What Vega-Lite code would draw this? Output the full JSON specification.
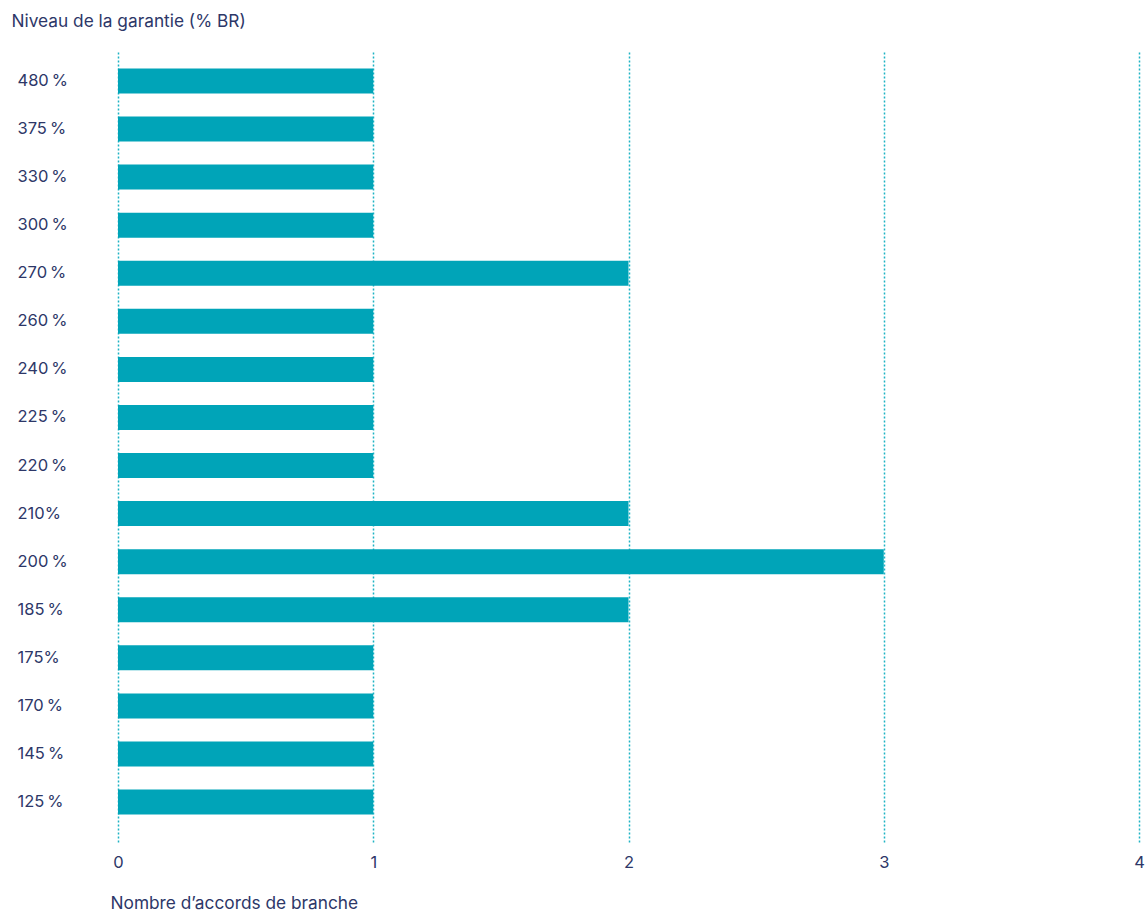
{
  "$schema": "https://vega.github.io/schema/vega-lite/v6.json",
  "autosize": {"type": "none"},
  "width": 1021,
  "height": 790,
  "padding": {"left": 118, "top": 52, "right": 7, "bottom": 71},
  "background": "white",
  "config": {
    "view": {"stroke": null},
    "font": "Inter",
    "axis": {"labelFont": "Inter", "titleFont": "Inter", "labelColor": "#2d3768", "titleColor": "#2d3768", "labelFontSize": 16.5, "titleFontSize": 17.3, "titleFontWeight": "normal"}
  },
  "data": {"values": [
    {"niveau": "480\u202f%", "n": 1},
    {"niveau": "375\u202f%", "n": 1},
    {"niveau": "330\u202f%", "n": 1},
    {"niveau": "300\u202f%", "n": 1},
    {"niveau": "270\u202f%", "n": 2},
    {"niveau": "260\u202f%", "n": 1},
    {"niveau": "240\u202f%", "n": 1},
    {"niveau": "225\u202f%", "n": 1},
    {"niveau": "220\u202f%", "n": 1},
    {"niveau": "210%", "n": 2},
    {"niveau": "200\u202f%", "n": 3},
    {"niveau": "185\u202f%", "n": 2},
    {"niveau": "175%", "n": 1},
    {"niveau": "170\u202f%", "n": 1},
    {"niveau": "145\u202f%", "n": 1},
    {"niveau": "125\u202f%", "n": 1}
  ]},
  "mark": {"type": "bar", "color": "#00a4b8"},
  "encoding": {
    "y": {
      "field": "niveau", "type": "nominal", "sort": null,
      "scale": {"paddingInner": 0.48, "paddingOuter": 0.457, "align": 0.375},
      "axis": {
        "title": "Niveau de la garantie (% BR)",
        "titleAngle": 0, "titleAlign": "left", "titleBaseline": "alphabetic",
        "titleX": -107, "titleY": -26,
        "domain": false, "ticks": false, "tickSize": 0, "grid": false,
        "labelAlign": "left", "labelPadding": 101, "labelBaseline": "middle"
      }
    },
    "x": {
      "field": "n", "type": "quantitative",
      "scale": {"domain": [0, 4], "nice": false},
      "axis": {
        "title": "Nombre d\u2019accords de branche",
        "titleAlign": "left", "titleAnchor": "start", "titleX": -8, "titleY": 66, "titleBaseline": "alphabetic",
        "values": [0, 1, 2, 3, 4], "format": "d",
        "domain": false, "ticks": false, "tickSize": 0,
        "labelPadding": 12,
        "grid": true, "gridColor": "#1fb3c4", "gridDash": [2, 2], "gridWidth": 1.5,
        "labelFlush": false
      }
    }
  }
}
